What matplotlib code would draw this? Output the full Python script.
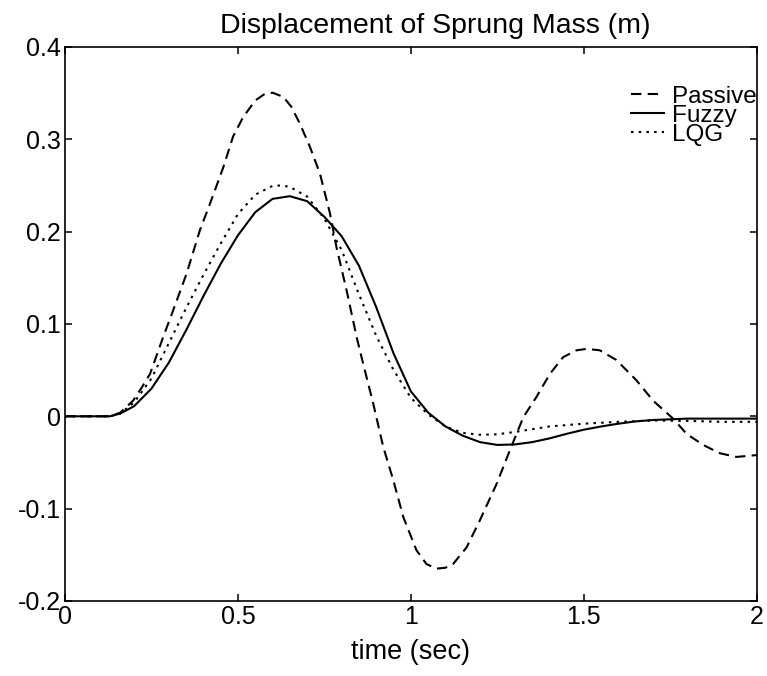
"""Displacement of sprung mass: passive vs fuzzy vs LQG"""
import matplotlib
matplotlib.use('Agg')
import matplotlib.pyplot as plt

plt.rcParams['font.family'] = ['Liberation Sans', 'DejaVu Sans']

# ── data ───────────────────────────────────────────────────────────
t_passive = [0.0, 0.13, 0.16, 0.197, 0.22, 0.246, 0.284, 0.313, 0.352, 0.39,
             0.419, 0.458, 0.486, 0.515, 0.55, 0.575, 0.6, 0.631, 0.655, 0.679,
             0.708, 0.737, 0.766, 0.785, 0.815, 0.843, 0.862, 0.891, 0.92,
             0.949, 0.978, 1.016, 1.045, 1.074, 1.1, 1.122, 1.161, 1.199,
             1.248, 1.286, 1.325, 1.363, 1.402, 1.44, 1.479, 1.508, 1.546,
             1.594, 1.652, 1.7, 1.758, 1.797, 1.845, 1.893, 1.941, 2.0]
passive = [0.0, 0.0, 0.004, 0.017, 0.03, 0.046, 0.086, 0.115, 0.155, 0.2015,
           0.23, 0.27, 0.303, 0.324, 0.342, 0.3485, 0.3505, 0.346, 0.335, 0.317,
           0.292, 0.263, 0.22, 0.183, 0.135, 0.086, 0.057, 0.014, -0.033,
           -0.069, -0.109, -0.145, -0.16, -0.165, -0.164, -0.16, -0.142, -0.113,
           -0.073, -0.037, -0.001, 0.021, 0.046, 0.064, 0.0715, 0.073, 0.0715,
           0.061, 0.039, 0.017, -0.0025, -0.019, -0.031, -0.04, -0.044, -0.042]

t_fuzzy = [0.0, 0.13, 0.16, 0.2, 0.25, 0.3, 0.35, 0.4, 0.45, 0.5, 0.55,
           0.6, 0.65, 0.7, 0.75, 0.8, 0.85, 0.9, 0.95, 1.0, 1.05, 1.1, 1.15,
           1.2, 1.25, 1.3, 1.35, 1.4, 1.45, 1.5, 1.55, 1.6, 1.65, 1.7, 1.8, 2.0]
fuzzy = [0.0, 0.0, 0.003, 0.011, 0.03, 0.058, 0.093, 0.13, 0.165, 0.196, 0.221,
         0.2355, 0.2384, 0.233, 0.216, 0.195, 0.163, 0.118, 0.068, 0.027, 0.004,
         -0.011, -0.021, -0.028, -0.031, -0.0305, -0.028, -0.024, -0.019,
         -0.0145, -0.011, -0.008, -0.0055, -0.004, -0.0025, -0.0025]

t_lqg = [0.0, 0.13, 0.16, 0.2, 0.25, 0.3, 0.35, 0.4, 0.45, 0.5, 0.55, 0.6,
         0.625, 0.65, 0.7, 0.75, 0.8, 0.85, 0.9, 0.95, 1.0, 1.05, 1.1, 1.15,
         1.2, 1.25, 1.3, 1.35, 1.4, 1.5, 1.6, 1.7, 1.8, 1.9, 2.0]
lqg = [0.0, 0.0, 0.003, 0.015, 0.041, 0.079, 0.117, 0.153, 0.187, 0.219, 0.24,
       0.2495, 0.25, 0.2485, 0.238, 0.214, 0.18, 0.132, 0.087, 0.05, 0.02,
       0.002, -0.011, -0.018, -0.02, -0.0195, -0.017, -0.014, -0.011, -0.008,
       -0.006, -0.0045, -0.005, -0.006, -0.006]

x_ticks = [0, 0.5, 1, 1.5, 2]
x_ticklabels = ['0', '0.5', '1', '1.5', '2']
y_ticks = [-0.2, -0.1, 0, 0.1, 0.2, 0.3, 0.4]
y_ticklabels = ['-0.2', '-0.1', '0', '0.1', '0.2', '0.3', '0.4']

fig = plt.figure(figsize=(7.67, 6.76), dpi=100)
fig.patch.set_facecolor('white')
ax = fig.add_axes([0.0847, 0.111, 0.902, 0.8195])

lw = 1.5
ax.plot(t_passive, passive, color='black', lw=lw, linestyle=(0, (5, 3)), label='Passive')
ax.plot(t_fuzzy, fuzzy, color='black', lw=lw, linestyle='-', label='Fuzzy')
ax.plot(t_lqg, lqg, color='black', lw=lw, linestyle=(0, (1.2, 2.5)), label='LQG')

ax.set_xlim(0, 2)
ax.set_ylim(-0.2, 0.4)
ax.set_xticks(x_ticks)
ax.set_xticklabels(x_ticklabels)
ax.set_yticks(y_ticks)
ax.set_yticklabels(y_ticklabels)
ax.tick_params(direction='in', length=5, width=1.1, top=True, right=True,
               labelsize=18, pad=3)
for s in ax.spines.values():
    s.set_linewidth(1.2)

ax.set_title('Displacement of Sprung Mass (m)', fontsize=20.5, pad=10, x=0.535)
ax.set_xlabel('time (sec)', fontsize=19.5, labelpad=7)

leg = ax.legend(loc='upper right', bbox_to_anchor=(1.0, 0.93), frameon=False,
                fontsize=17.5, handlelength=1.35, handletextpad=0.35,
                labelspacing=-0.12, borderpad=0, borderaxespad=0)

fig.savefig('out.png', dpi=100, facecolor='white')
plt.close(fig)
